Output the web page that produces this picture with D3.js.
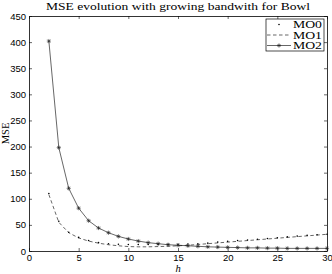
<!DOCTYPE html>
<html>
<head>
<meta charset="utf-8">
<script src="https://cdn.jsdelivr.net/npm/d3@7"></script>
<style>
  body { margin: 0; background: #fff; }
  svg { display: block; }
</style>
</head>
<body>
<svg id="chart"></svg>
<script>
const W = 332, H = 274;
const box = {l: 29, r: 327, t: 16, b: 251};

// bandwidth h and MSE per method
const hVals = [2,3,4,5,6,7,8,9,10,11,12,13,14,15,16,17,18,19,20,21,22,23,24,25,26,27,28,29,30];
const mo0 = [110,57,36,26,20,16,14,13,12.5,12.5,12.5,12.5,13,13,13.5,14,15,17,18.5,20,21,22.5,24,25.5,27,28.5,30,31,32];
const mo1 = [108,55,35,25,19,15,12,10,8.5,8,8,8.5,9,10,11,12.5,14,15.5,17,18.5,20,21.5,23,24.5,26,27.5,29,30.5,32];
const mo2 = [402,198,120,82,58,44,35,28,23,19,16,14,12,11,10,9,8,7.5,7,6.5,6,6,5.5,5.5,5,5,5,5,5];
const xTicks = [0,5,10,15,20,25,30];
const yTicks = [0,50,100,150,200,250,300,350,400,450];
const seriesNames = ["MO0","MO1","MO2"];

const svg = d3.select("#chart").attr("width", W).attr("height", H);

const x = d3.scaleLinear().domain([0, 30]).range([box.l, box.r]);
const y = d3.scaleLinear().domain([0, 450]).range([box.b, box.t]);

const tickFont = "'Liberation Sans', Arial, sans-serif";
const serif = "'Liberation Serif', 'DejaVu Serif', serif";

// axes, ticks point inward like matlab
const gx = svg.append("g").attr("transform", `translate(0,${box.b})`)
  .call(d3.axisBottom(x).tickValues(xTicks).tickSizeInner(-3).tickSizeOuter(0).tickPadding(3));
const gy = svg.append("g").attr("transform", `translate(${box.l},0)`)
  .call(d3.axisLeft(y).tickValues(yTicks).tickSizeInner(-3).tickSizeOuter(0).tickPadding(3));
const gt = svg.append("g").attr("transform", `translate(0,${box.t})`)
  .call(d3.axisTop(x).tickValues(xTicks).tickSizeInner(-3).tickSizeOuter(0).tickFormat(""));
const gr = svg.append("g").attr("transform", `translate(${box.r},0)`)
  .call(d3.axisRight(y).tickValues(yTicks).tickSizeInner(-3).tickSizeOuter(0).tickFormat(""));

[gx, gy, gt, gr].forEach(g => {
  g.selectAll("path.domain").attr("stroke", "#000").attr("stroke-width", 0.8);
  g.selectAll(".tick line").attr("stroke", "#000").attr("stroke-width", 0.6);
  g.selectAll("text").attr("font-family", tickFont).attr("font-size", 9.5).attr("fill", "#000");
});

// curves
const line = d3.line().x(d => x(d[0])).y(d => y(d[1]));
const pts = arr => hVals.map((h, i) => [h, arr[i]]);

svg.append("path").datum(pts(mo1))
  .attr("d", line).attr("fill", "none")
  .attr("stroke", "#000").attr("stroke-width", 0.6).attr("stroke-dasharray", "3.5 2.5");

svg.append("path").datum(pts(mo2))
  .attr("d", line).attr("fill", "none")
  .attr("stroke", "#000").attr("stroke-width", 0.6);

svg.append("g").selectAll("circle").data(pts(mo0)).join("circle")
  .attr("cx", d => x(d[0])).attr("cy", d => y(d[1])).attr("r", 0.8).attr("fill", "#000");

function star(g, cx, cy, s) {
  const p = `M${cx-s},${cy}H${cx+s}M${cx},${cy-s}V${cy+s}` +
    `M${cx-s*0.7},${cy-s*0.7}L${cx+s*0.7},${cy+s*0.7}M${cx-s*0.7},${cy+s*0.7}L${cx+s*0.7},${cy-s*0.7}`;
  g.append("path").attr("d", p).attr("stroke", "#222").attr("stroke-width", 0.6).attr("fill", "none");
}
const gs = svg.append("g");
pts(mo2).forEach(d => star(gs, x(d[0]), y(d[1]), 2.1));

// title and labels
svg.append("text").attr("x", (box.l + box.r) / 2).attr("y", 10)
  .attr("text-anchor", "middle").attr("font-family", serif).attr("font-size", 11)
  .attr("textLength", 264).attr("lengthAdjust", "spacingAndGlyphs")
  .text("MSE evolution with growing bandwith for Bowl");

svg.append("text").attr("transform", `translate(9,${(box.t + box.b) / 2}) rotate(-90)`)
  .attr("text-anchor", "middle").attr("font-family", serif).attr("font-size", 10.5)
  .text("MSE");

svg.append("text").attr("x", (box.l + box.r) / 2).attr("y", 272)
  .attr("text-anchor", "middle").attr("font-family", serif).attr("font-style", "italic")
  .attr("font-size", 10.5).text("h");

// legend
const lg = svg.append("g").attr("transform", "translate(266,19)");
lg.append("rect").attr("width", 58).attr("height", 32)
  .attr("fill", "#fff").attr("stroke", "#000").attr("stroke-width", 0.7);
seriesNames.forEach((name, i) => {
  const cy = 5.5 + i * 10.5;
  if (i === 0) lg.append("circle").attr("cx", 13).attr("cy", cy).attr("r", 0.8).attr("fill", "#000");
  if (i === 1) lg.append("line").attr("x1", 1).attr("x2", 25).attr("y1", cy).attr("y2", cy)
    .attr("stroke", "#000").attr("stroke-width", 0.6).attr("stroke-dasharray", "3.5 2.5");
  if (i === 2) {
    lg.append("line").attr("x1", 1).attr("x2", 25).attr("y1", cy).attr("y2", cy)
      .attr("stroke", "#000").attr("stroke-width", 0.6);
    star(lg, 13, cy, 2.1);
  }
  lg.append("text").attr("x", 27).attr("y", cy + 3.5).attr("font-family", serif)
    .attr("font-size", 11).attr("textLength", 29).attr("lengthAdjust", "spacingAndGlyphs")
    .text(name);
});
</script>
</body>
</html>
